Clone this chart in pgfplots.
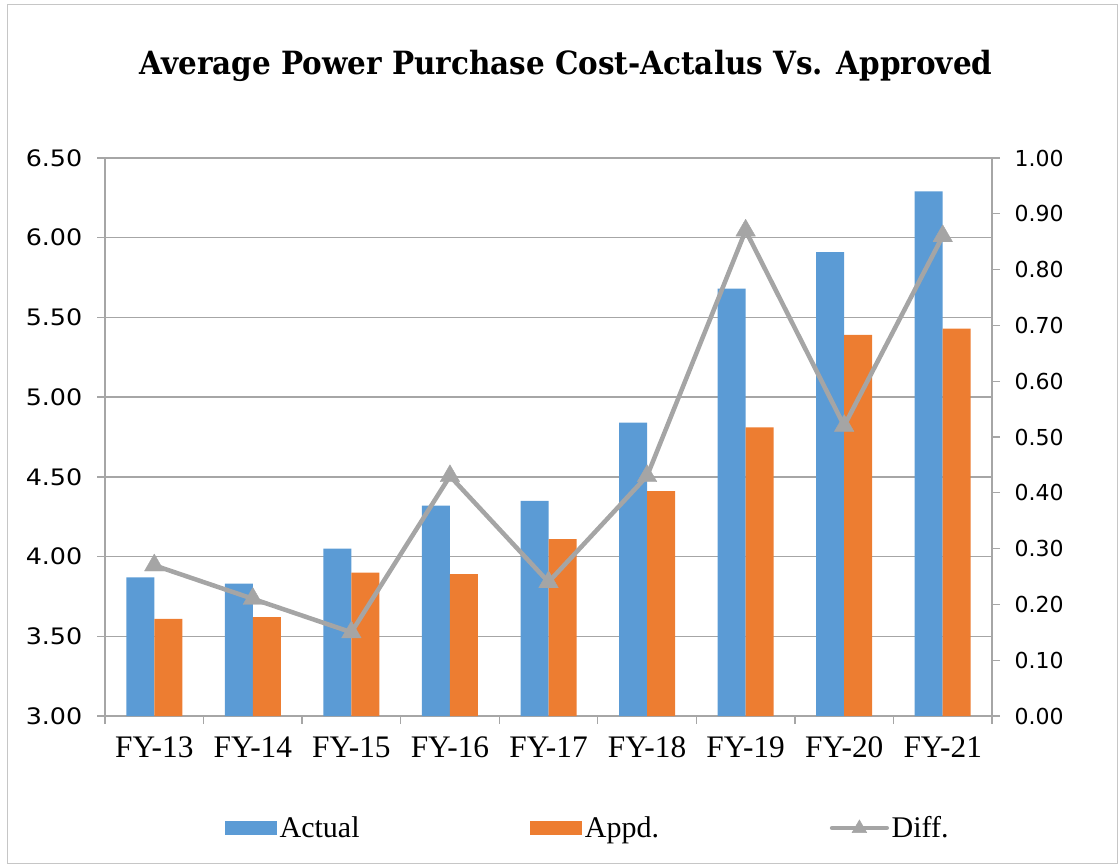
\documentclass[border=0pt]{standalone}
\usepackage{pgfplots}
\pgfplotsset{compat=1.18}
\usepackage{fontspec}
\setmainfont{Liberation Serif}
\newfontfamily\titlefont[FakeStretch=0.92]{DejaVu Serif}
\newfontfamily\tickfontL[FakeStretch=1.12]{DejaVu Sans}
\newfontfamily\tickfontR{DejaVu Sans}
\definecolor{cblue}{HTML}{5B9BD5}
\definecolor{corange}{HTML}{ED7D31}
\definecolor{cgray}{HTML}{A5A5A5}
\definecolor{gridc}{HTML}{A6A6A6}
\begin{document}
\begin{tikzpicture}
\path[use as bounding box] (0,0) rectangle (839.25pt,648.75pt);
\draw[gray!45, line width=0.75pt] (5.25pt,1.5pt) rectangle (837.75pt,645pt);
\node[font=\titlefont\fontsize{24}{28}\selectfont\bfseries] at (424.5pt,599pt) {Average Power Purchase Cost-Actalus Vs. Approved};

\begin{axis}[
  at={(78.75pt,111.75pt)}, anchor=south west,
  width=665.25pt, height=418.5pt, scale only axis,
  xmin=-0.5, xmax=8.5, ymin=3, ymax=6.5,
  ybar=0pt, bar width=21pt,
  xtick={-0.5,0.5,...,8.5},
  xticklabels={FY-13,FY-14,FY-15,FY-16,FY-17,FY-18,FY-19,FY-20,FY-21},
  x tick label as interval,
  ytick={3,3.5,4,4.5,5,5.5,6,6.5},
  tick align=outside, major tick length=6pt,
  axis x line*=bottom, axis y line*=left,
  ymajorgrids, grid style={gridc, line width=1pt},
  axis line style={gridc, line width=1pt},
  tick style={gridc, line width=1pt},
  xticklabel style={font=\fontsize{23.5}{27}\selectfont, yshift=-6pt},
  yticklabel style={font=\tickfontL\fontsize{17}{20}\selectfont, xshift=-7.5pt,
    /pgf/number format/.cd, fixed, fixed zerofill, precision=2, assume math mode=true},
  legend style={at={(0.5447,-0.2007)}, anchor=center, draw=none,
    font=\fontsize{22.5}{26}\selectfont,
    /tikz/every even column/.append style={column sep=126pt}},
  legend columns=3,
]
\addplot[fill=cblue, draw=none,
  legend image code/.code={\fill[cblue] (0pt,-5.6pt) rectangle (39pt,5.6pt);}]
  coordinates {(0,3.87) (1,3.83) (2,4.05) (3,4.32) (4,4.35) (5,4.84) (6,5.68) (7,5.91) (8,6.29)};
\addlegendentry{Actual}
\addplot[fill=corange, draw=none,
  legend image code/.code={\fill[corange] (0pt,-5.6pt) rectangle (39pt,5.6pt);}]
  coordinates {(0,3.61) (1,3.62) (2,3.90) (3,3.89) (4,4.11) (5,4.41) (6,4.81) (7,5.39) (8,5.43)};
\addlegendentry{Appd.}
\addlegendimage{legend image code/.code={
  \draw[cgray, line width=3.4pt, line cap=round] (0pt,0pt) -- (41pt,0pt);
  \fill[cgray] (20.5pt,6pt) -- (26pt,-3.5pt) -- (15pt,-3.5pt) -- cycle;}}
\addlegendentry{Diff.}
\end{axis}

\begin{axis}[
  at={(78.75pt,111.75pt)}, anchor=south west,
  width=665.25pt, height=418.5pt, scale only axis,
  xmin=-0.5, xmax=8.5, ymin=0, ymax=1,
  axis x line=none, axis y line*=right,
  ytick={0,0.1,0.2,0.3,0.4,0.5,0.6,0.7,0.8,0.9,1.0},
  tick align=outside, major tick length=6pt,
  axis line style={gridc, line width=1pt},
  tick style={gridc, line width=1pt},
  yticklabel style={font=\tickfontR\fontsize{16.5}{20}\selectfont, xshift=7.5pt,
    /pgf/number format/.cd, fixed, fixed zerofill, precision=2, assume math mode=true},
]
\addplot[cgray, line width=3.4pt, line join=round, mark=triangle*, mark size=8.5pt,
  mark options={fill=cgray, draw=cgray, line width=0.3pt}]
  coordinates {(0,0.27) (1,0.21) (2,0.15) (3,0.43) (4,0.24) (5,0.43) (6,0.87) (7,0.52) (8,0.86)};
\end{axis}
\end{tikzpicture}
\end{document}
